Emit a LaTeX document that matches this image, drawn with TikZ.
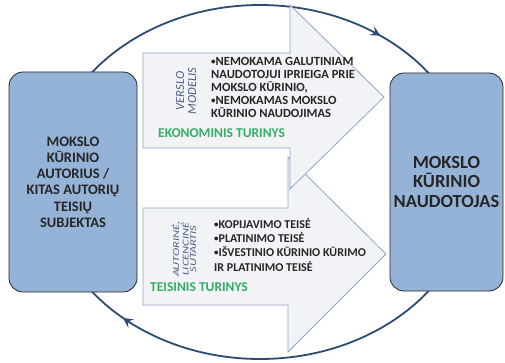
\documentclass[tikz,border=0pt]{standalone}
\usepackage{fontspec}
\setmainfont{Carlito}[BoldFont=Carlito Bold,ItalicFont=Carlito Italic,BoldItalicFont=Carlito Bold Italic]
\newfontfamily\widenote{Carlito Italic}[FakeStretch=1.38]
\usetikzlibrary{arrows.meta,decorations.markings}
\definecolor{boxblue}{HTML}{95B3D7}
\definecolor{ringblue}{HTML}{2C4A74}
\definecolor{arrowfill}{HTML}{F2F3F6}
\definecolor{arrowline}{HTML}{8FA4C4}
\definecolor{sidetext}{HTML}{4C5F8A}
\definecolor{turgreen}{HTML}{33AE62}
\definecolor{darktext}{HTML}{262626}
\def\bul{{\fontsize{9}{9}\selectfont\raisebox{1pt}{•}}}

\begin{document}
\begin{tikzpicture} [x=1pt,y=1pt,
    party/.style={draw=darktext,fill=boxblue,rounded corners=14pt,line width=0.8pt,
      text=darktext,font=\bfseries,align=center,inner sep=0pt},
    blockarrow/.style={draw=arrowline,fill=arrowfill,line width=0.8pt},
    bullets/.style={text=darktext,font=\bfseries\fontsize{12.5}{13}\selectfont,align=left,inner sep=0pt},
    sidenote/.style={text=sidetext,align=center,rotate=90,inner sep=0pt},
    content/.style={text=turgreen,font=\bfseries\fontsize{13.5}{14}\selectfont,inner sep=0pt},
    ringtip/.tip={Stealth[length=10pt,width=10pt,inset=4pt]}]
       \useasboundingbox (0,0) rectangle (505,362);
       % ring of the exchange
       \draw [ringblue,line width=1.8pt,postaction={decorate},
         decoration={markings,
           mark=at position 0.148 with {\arrowreversed{ringtip}},
           mark=at position 0.632 with {\arrowreversed{ringtip}}}]
         (260,180) ellipse [x radius=214, y radius=177];
       % legal content (behind)
       \draw [blockarrow] (143,154) -- (288,154) -- (288,205) -- (386,108)
         -- (288,10) -- (288,57) -- (143,57) -- cycle;
       % economic content
       \draw [blockarrow] (143,309) -- (290,309) -- (290,357) -- (384,265)
         -- (290,173) -- (290,214) -- (143,214) -- cycle;
       \node [party,minimum width=128pt,minimum height=220pt,font=\bfseries\fontsize{14.5}{16.2}\selectfont]
         (author) at (73,180) {MOKSLO\\KŪRINIO\\AUTORIUS /\\KITAS AUTORIŲ\\TEISIŲ\\SUBJEKTAS};
       \node [party,minimum width=113pt,minimum height=218pt,font=\bfseries\fontsize{18.5}{19.5}\selectfont]
         (user) at (446.5,180) {MOKSLO\\KŪRINIO\\NAUDOTOJAS};
       \node [sidenote,font=\itshape\fontsize{12.5}{12}\selectfont] (model) at (186,271) {VERSLO\\MODELIS};
       \node [bullets,anchor=north west] (econ) at (211,305)
         {\bul NEMOKAMA GALUTINIAM\\NAUDOTOJUI IPRIEIGA PRIE\\MOKSLO KŪRINIO,\\\bul NEMOKAMAS MOKSLO\\KŪRINIO NAUDOJIMAS};
       \node [content,anchor=west] (econlabel) at (158,229) {EKONOMINIS TURINYS};
       \node [sidenote,font=\widenote\fontsize{9}{7.5}\selectfont] (contract) at (184,113) {AUTORINĖ,\\LICENCINĖ\\SUTARTIS};
       \node [bullets,anchor=north west,font=\bfseries\fontsize{12}{14.3}\selectfont] (law) at (214,144)
         {\bul KOPIJAVIMO TEISĖ\\\bul PLATINIMO TEISĖ\\\bul IŠVESTINIO KŪRINIO KŪRIMO\\IR PLATINIMO TEISĖ};
       \node [content,anchor=west] (lawlabel) at (150,75) {TEISINIS TURINYS};
    \end{tikzpicture}
\end{document}
